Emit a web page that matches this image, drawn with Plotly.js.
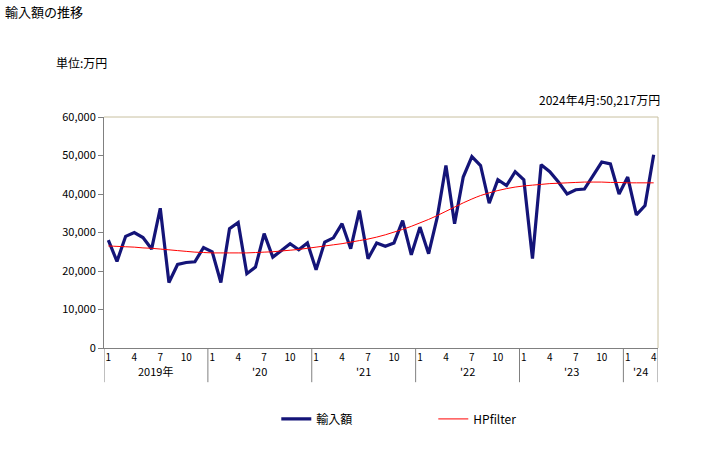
<!DOCTYPE html>
<html>
<head>
<meta charset="utf-8">
<script src="https://cdn.plot.ly/plotly-3.0.1.min.js"></script>
<style>
html,body{margin:0;padding:0;background:#fff;}
#chart{width:728px;height:450px;}
</style>
</head>
<body>
<div id="chart"></div>
<script>
// Data (万円), monthly Jan 2019 - Apr 2024
const years = [2019, 2020, 2021, 2022, 2023, 2024];
const yearLabels = ["2019年", "'20", "'21", "'22", "'23", "'24"];
const monthsPerYear = [12, 12, 12, 12, 12, 4];
const monthTickLabels = [1, 4, 7, 10];
const imports = [
  28000, 22500, 29000, 30000, 28700, 25700, 36300, 17000, 21700, 22200, 22400, 26100,
  25000, 17000, 31000, 32600, 19300, 21000, 29700, 23600, 25300, 27100, 25500, 27300,
  20300, 27500, 28600, 32300, 25800, 35700, 23200, 27300, 26400, 27300, 33100, 24200,
  31400, 24500, 34000, 47400, 32300, 44400, 49700, 47400, 37600, 43700, 42200, 45800,
  43700, 23200, 47600, 45800, 43100, 40000, 41100, 41300, 44800, 48300, 47800, 40000,
  44400, 34600, 37000, 50217
];
const hpfilter = [
  26500, 26400, 26300, 26200, 26000, 25900, 25700, 25500, 25300, 25100, 24900, 24800,
  24700, 24700, 24700, 24700, 24700, 24800, 24900, 25000, 25200, 25400, 25600, 25900,
  26200, 26500, 26800, 27100, 27500, 27900, 28300, 28800, 29400, 30100, 30800, 31600,
  32500, 33400, 34400, 35500, 36600, 37700, 38700, 39600, 40300, 40900, 41400, 41800,
  42100, 42300, 42500, 42700, 42800, 42900, 43000, 43100, 43100, 43100, 43000, 43000,
  42900, 42900, 42900, 42900
];
const seriesNames = ["輸入額", "HPfilter"];
const latestLabel = "2024年4月:50,217万円";

// Build x positions and tick labels
const xs = [];
const monthOf = [];
years.forEach((y, yi) => {
  for (let m = 1; m <= monthsPerYear[yi]; m++) { xs.push(xs.length + 1); monthOf.push(m); }
});
const tickvals = [], ticktext = [];
xs.forEach((x, i) => { if (monthTickLabels.includes(monthOf[i])) { tickvals.push(x); ticktext.push(String(monthOf[i])); } });

const jp = '"Noto Sans CJK JP", "DejaVu Sans", sans-serif';
const shapes = [];
const annotations = [];
let start = 0;
const bounds = [0.5];
years.forEach((y, yi) => {
  const end = start + monthsPerYear[yi];
  bounds.push(end + 0.5);
  annotations.push({
    x: (start + 1 + end) / 2, xref: 'x', y: -0.1, yref: 'paper',
    text: yearLabels[yi], showarrow: false, yanchor: 'middle',
    font: {family: jp, size: 11, color: '#000'}
  });
  start = end;
});
bounds.forEach(b => {
  shapes.push({type: 'line', xref: 'x', yref: 'paper', x0: b, x1: b, y0: 0, y1: -0.148,
    line: {color: '#808080', width: 1}});
});
// top and right border of plot
shapes.push({type: 'line', xref: 'paper', yref: 'paper', x0: 0, x1: 1, y0: 1, y1: 1, line: {color: '#c8c0a0', width: 1}});
shapes.push({type: 'line', xref: 'paper', yref: 'paper', x0: 1, x1: 1, y0: 0, y1: 1, line: {color: '#c8c0a0', width: 1}});

annotations.push({xref: 'paper', yref: 'paper', x: -0.09, y: 1.235, xanchor: 'left', yanchor: 'middle',
  text: '単位:万円', showarrow: false, font: {family: jp, size: 12, color: '#000'}});
annotations.push({xref: 'paper', yref: 'paper', x: 1.007, y: 1.075, xanchor: 'right', yanchor: 'middle',
  text: latestLabel, showarrow: false, font: {family: jp, size: 12, color: '#000'}});

const traces = [
  {x: xs, y: imports, name: seriesNames[0], type: 'scatter', mode: 'lines',
   line: {color: '#141478', width: 3.2}},
  {x: xs, y: hpfilter, name: seriesNames[1], type: 'scatter', mode: 'lines',
   line: {color: '#ff0000', width: 1, shape: 'spline'}}
];

const layout = {
  width: 728, height: 450,
  margin: {l: 104, r: 70, t: 117, b: 102},
  paper_bgcolor: '#fff', plot_bgcolor: '#fff',
  title: {text: '輸入額の推移', x: 0.007, xanchor: 'left', y: 0.973, yanchor: 'middle',
    font: {family: jp, size: 13, color: '#000'}},
  xaxis: {range: [0.5, xs.length + 0.5], tickvals: tickvals, ticktext: ticktext,
    showgrid: false, zeroline: false, showline: true, linecolor: '#808080', linewidth: 1,
    ticks: '', tickfont: {family: jp, size: 10, color: '#000'}, fixedrange: true},
  yaxis: {range: [0, 60000], dtick: 10000, tickformat: ',d', showgrid: false, zeroline: false,
    showline: true, linecolor: '#808080', linewidth: 1, ticks: 'outside', ticklen: 5,
    tickcolor: '#808080', tickfont: {family: jp, size: 11, color: '#000'}},
  showlegend: true,
  legend: {orientation: 'h', x: 0.311, xanchor: 'left', y: -0.307, yanchor: 'middle',
    font: {family: jp, size: 12, color: '#000'}, entrywidth: 112, itemwidth: 30},
  shapes: shapes,
  annotations: annotations
};

Plotly.newPlot('chart', traces, layout, {displayModeBar: false, staticPlot: true});
</script>
</body>
</html>
